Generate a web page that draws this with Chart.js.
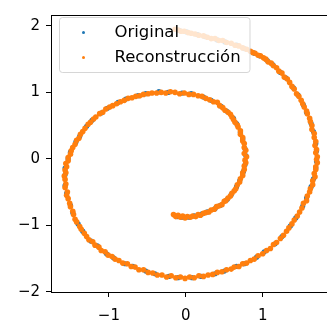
<!DOCTYPE html>
<html>
<head>
<meta charset="utf-8">
<script src="https://cdn.jsdelivr.net/npm/chart.js@4"></script>
<style>
    body { margin: 0; overflow: hidden; background: #fff; }
    #wrap { position: absolute; left: 0; top: 0; width: 333px; height: 321px; }
</style>
</head>
<body>
<div id="wrap"><canvas id="spiralChart"></canvas></div>
<script>
// series labels
const seriesNames = ["Original", "Reconstrucción"];

// tick values
const xTicks = [-1, 0, 1];
const yTicks = [-2, -1, 0, 1, 2];

// original points (x, y)
const originalX = [-0.11,-0.05,0.04,0.11,0.21,0.28,0.38,0.45,0.54,0.59,0.66,0.70,0.75,0.77,0.78,0.77,0.74,0.71,0.66,0.62,0.53,0.46,0.33,0.23,0.07,-0.05,-0.23,-0.35,-0.52,-0.62,-0.78,-0.88,-1.02,-1.10,-1.22,-1.29,-1.38,-1.43,-1.50,-1.53,-1.57,-1.57,-1.57,-1.55,-1.50,-1.47,-1.40,-1.34,-1.23,-1.15,-1.03,-0.94,-0.79,-0.69,-0.52,-0.40,-0.22,-0.10,0.08,0.20,0.38,0.50,0.66,0.76,0.92,1.02,1.16,1.25,1.36,1.43,1.52,1.57,1.63,1.66,1.69,1.70,1.70,1.69,1.66,1.63,1.57,1.53,1.46,1.40,1.30,1.23,1.13,1.06,0.96,0.89,0.76,0.66,0.51,0.41,0.25,0.15,0.01,-0.08];
const originalY = [-0.87,-0.88,-0.88,-0.86,-0.83,-0.80,-0.75,-0.70,-0.61,-0.54,-0.42,-0.33,-0.19,-0.09,0.05,0.15,0.30,0.40,0.53,0.61,0.72,0.79,0.88,0.93,0.98,0.99,1.00,1.01,0.98,0.95,0.90,0.85,0.76,0.69,0.58,0.49,0.34,0.25,0.10,0.00,-0.14,-0.24,-0.40,-0.52,-0.70,-0.81,-0.98,-1.09,-1.24,-1.31,-1.43,-1.49,-1.58,-1.62,-1.69,-1.73,-1.77,-1.79,-1.79,-1.77,-1.73,-1.69,-1.62,-1.58,-1.48,-1.40,-1.28,-1.17,-1.01,-0.89,-0.71,-0.59,-0.42,-0.30,-0.14,-0.04,0.12,0.23,0.41,0.53,0.70,0.81,0.96,1.07,1.22,1.30,1.42,1.48,1.55,1.59,1.66,1.71,1.76,1.79,1.84,1.87,1.91,1.93];

// reconstructed points (x, y)
const reconX = [-0.16,-0.13,-0.10,-0.07,-0.04,-0.01,0.02,0.06,0.09,0.13,0.16,0.19,0.23,0.26,0.30,0.33,0.37,0.40,0.43,0.47,0.50,0.52,0.55,0.58,0.60,0.63,0.65,0.67,0.70,0.71,0.74,0.74,0.76,0.76,0.78,0.77,0.79,0.76,0.78,0.76,0.76,0.74,0.74,0.71,0.71,0.68,0.67,0.64,0.62,0.60,0.58,0.55,0.51,0.48,0.44,0.41,0.36,0.31,0.26,0.21,0.16,0.10,0.04,-0.02,-0.08,-0.14,-0.20,-0.26,-0.32,-0.38,-0.44,-0.49,-0.55,-0.60,-0.65,-0.70,-0.75,-0.80,-0.85,-0.90,-0.95,-0.99,-1.04,-1.08,-1.12,-1.17,-1.20,-1.24,-1.27,-1.31,-1.34,-1.37,-1.39,-1.42,-1.44,-1.47,-1.49,-1.50,-1.53,-1.53,-1.56,-1.55,-1.57,-1.56,-1.58,-1.57,-1.56,-1.57,-1.54,-1.55,-1.53,-1.51,-1.50,-1.47,-1.46,-1.44,-1.42,-1.38,-1.36,-1.32,-1.29,-1.26,-1.21,-1.18,-1.13,-1.10,-1.05,-1.01,-0.96,-0.92,-0.87,-0.82,-0.76,-0.71,-0.66,-0.61,-0.55,-0.49,-0.43,-0.37,-0.31,-0.25,-0.19,-0.13,-0.07,-0.01,0.05,0.11,0.17,0.23,0.29,0.35,0.41,0.47,0.53,0.59,0.63,0.69,0.74,0.79,0.84,0.89,0.94,1.00,1.05,1.10,1.14,1.18,1.23,1.27,1.31,1.34,1.38,1.41,1.45,1.48,1.51,1.53,1.57,1.58,1.61,1.62,1.65,1.65,1.68,1.67,1.69,1.69,1.71,1.70,1.71,1.69,1.70,1.68,1.69,1.67,1.67,1.64,1.64,1.62,1.61,1.58,1.57,1.54,1.52,1.50,1.47,1.44,1.41,1.38,1.35,1.32,1.28,1.25,1.21,1.18,1.14,1.11,1.07,1.04,1.01,0.97,0.94,0.90,0.87,0.84,0.79,0.74,0.69,0.64,0.59,0.53,0.48,0.43,0.38,0.33,0.28,0.23,0.17,0.12,0.07,0.03,-0.02,-0.06,-0.10,-0.14];
const reconY = [-0.84,-0.87,-0.85,-0.88,-0.86,-0.89,-0.87,-0.88,-0.86,-0.87,-0.84,-0.85,-0.82,-0.81,-0.80,-0.77,-0.76,-0.72,-0.71,-0.69,-0.64,-0.63,-0.59,-0.56,-0.52,-0.48,-0.45,-0.39,-0.35,-0.30,-0.25,-0.21,-0.16,-0.11,-0.06,-0.02,0.03,0.08,0.13,0.17,0.23,0.27,0.32,0.37,0.42,0.48,0.51,0.55,0.59,0.63,0.67,0.70,0.73,0.77,0.80,0.85,0.86,0.89,0.91,0.94,0.95,0.97,0.97,0.99,0.98,1.00,1.01,0.99,1.00,0.99,0.99,0.98,0.97,0.95,0.94,0.92,0.91,0.88,0.86,0.83,0.80,0.78,0.75,0.70,0.68,0.63,0.60,0.55,0.52,0.46,0.41,0.37,0.31,0.28,0.22,0.17,0.12,0.07,0.02,-0.03,-0.07,-0.12,-0.17,-0.21,-0.26,-0.31,-0.38,-0.43,-0.50,-0.55,-0.60,-0.67,-0.72,-0.79,-0.84,-0.91,-0.95,-1.02,-1.06,-1.12,-1.17,-1.22,-1.25,-1.30,-1.33,-1.38,-1.40,-1.45,-1.47,-1.51,-1.53,-1.57,-1.58,-1.62,-1.63,-1.67,-1.67,-1.71,-1.72,-1.75,-1.75,-1.78,-1.76,-1.79,-1.78,-1.80,-1.78,-1.79,-1.76,-1.77,-1.75,-1.74,-1.71,-1.70,-1.67,-1.66,-1.63,-1.62,-1.58,-1.57,-1.53,-1.51,-1.46,-1.43,-1.38,-1.35,-1.29,-1.26,-1.20,-1.15,-1.09,-1.04,-0.98,-0.92,-0.86,-0.80,-0.74,-0.67,-0.63,-0.56,-0.50,-0.45,-0.39,-0.33,-0.27,-0.22,-0.16,-0.12,-0.06,-0.01,0.03,0.09,0.14,0.20,0.26,0.32,0.38,0.44,0.50,0.56,0.61,0.68,0.72,0.78,0.83,0.88,0.94,0.98,1.05,1.09,1.15,1.20,1.23,1.29,1.32,1.37,1.40,1.44,1.46,1.50,1.52,1.55,1.56,1.59,1.60,1.62,1.65,1.67,1.70,1.71,1.74,1.75,1.78,1.78,1.81,1.81,1.83,1.85,1.86,1.88,1.89,1.90,1.92,1.92,1.94,1.95];

function toPoints(xs, ys) {
    return xs.map((x, i) => ({ x: x, y: ys[i] }));
}

function minusLabel(v) {
    return v < 0 ? "\u2212" + Math.abs(v) : String(v);
}

const blue = "#1f77b4";
const orange = "#ff7f0e";
const tickFont = { family: "DejaVu Sans", size: 15 };

// matplotlib style legend drawn over the points, plus the top spine
const overlay = {
    id: "overlay",
    afterDatasetsDraw(chart) {
        const ctx = chart.ctx;
        const area = chart.chartArea;
        ctx.save();
        ctx.strokeStyle = "#000";
        ctx.lineWidth = 1;
        ctx.beginPath();
        ctx.moveTo(area.left, area.top + 0.5);
        ctx.lineTo(area.right, area.top + 0.5);
        ctx.stroke();

        const bx = 59.5, by = 17.5, bw = 190.5, bh = 55;
        ctx.beginPath();
        ctx.roundRect(bx, by, bw, bh, 3);
        ctx.fillStyle = "rgba(255,255,255,0.8)";
        ctx.fill();
        ctx.strokeStyle = "rgba(204,204,204,0.8)";
        ctx.stroke();

        const colors = [blue, orange];
        ctx.font = "16.5px 'DejaVu Sans'";
        ctx.textBaseline = "middle";
        ctx.textAlign = "left";
        seriesNames.forEach((name, i) => {
            const cy = 32.5 + i * 25;
            ctx.beginPath();
            ctx.arc(83.5, cy, 1.5, 0, Math.PI * 2);
            ctx.fillStyle = colors[i];
            ctx.fill();
            ctx.fillStyle = "#000";
            ctx.fillText(name, 114.5, cy);
        });
        ctx.restore();
    }
};

const chart = new Chart(document.getElementById("spiralChart"), {
    type: "scatter",
    data: {
        datasets: [
            { label: seriesNames[0], data: toPoints(originalX, originalY), backgroundColor: blue, pointRadius: 2.6, borderWidth: 0, order: 1 },
            { label: seriesNames[1], data: toPoints(reconX, reconY), backgroundColor: orange, pointRadius: 2.8, borderWidth: 0, order: 0 }
        ]
    },
    options: {
        responsive: true, maintainAspectRatio: false,
        animation: false,
        events: [],
        layout: { padding: { top: 8, left: 0, right: 0, bottom: 0 } },
        plugins: { legend: { display: false }, tooltip: { enabled: false } },
        scales: {
            x: {
                type: "linear", min: -1.753, max: 1.862,
                afterBuildTicks: (s) => { s.ticks = xTicks.map(v => ({ value: v })); },
                afterFit: (s) => { s.height = 29; },
                grid: { drawOnChartArea: false, tickLength: 5, color: "#000" },
                border: { color: "#000", width: 1 },
                ticks: { font: tickFont, color: "#000", padding: 10, maxRotation: 0, callback: minusLabel }
            },
            y: {
                type: "linear", min: -2.005, max: 2.165,
                afterBuildTicks: (s) => { s.ticks = yTicks.map(v => ({ value: v })); },
                afterFit: (s) => { s.width = 51; },
                grid: { drawOnChartArea: false, tickLength: 5, color: "#000" },
                border: { color: "#000", width: 1 },
                ticks: { font: tickFont, color: "#000", padding: 6, callback: minusLabel }
            }
        }
    },
    plugins: [overlay]
});
</script>
</body>
</html>
